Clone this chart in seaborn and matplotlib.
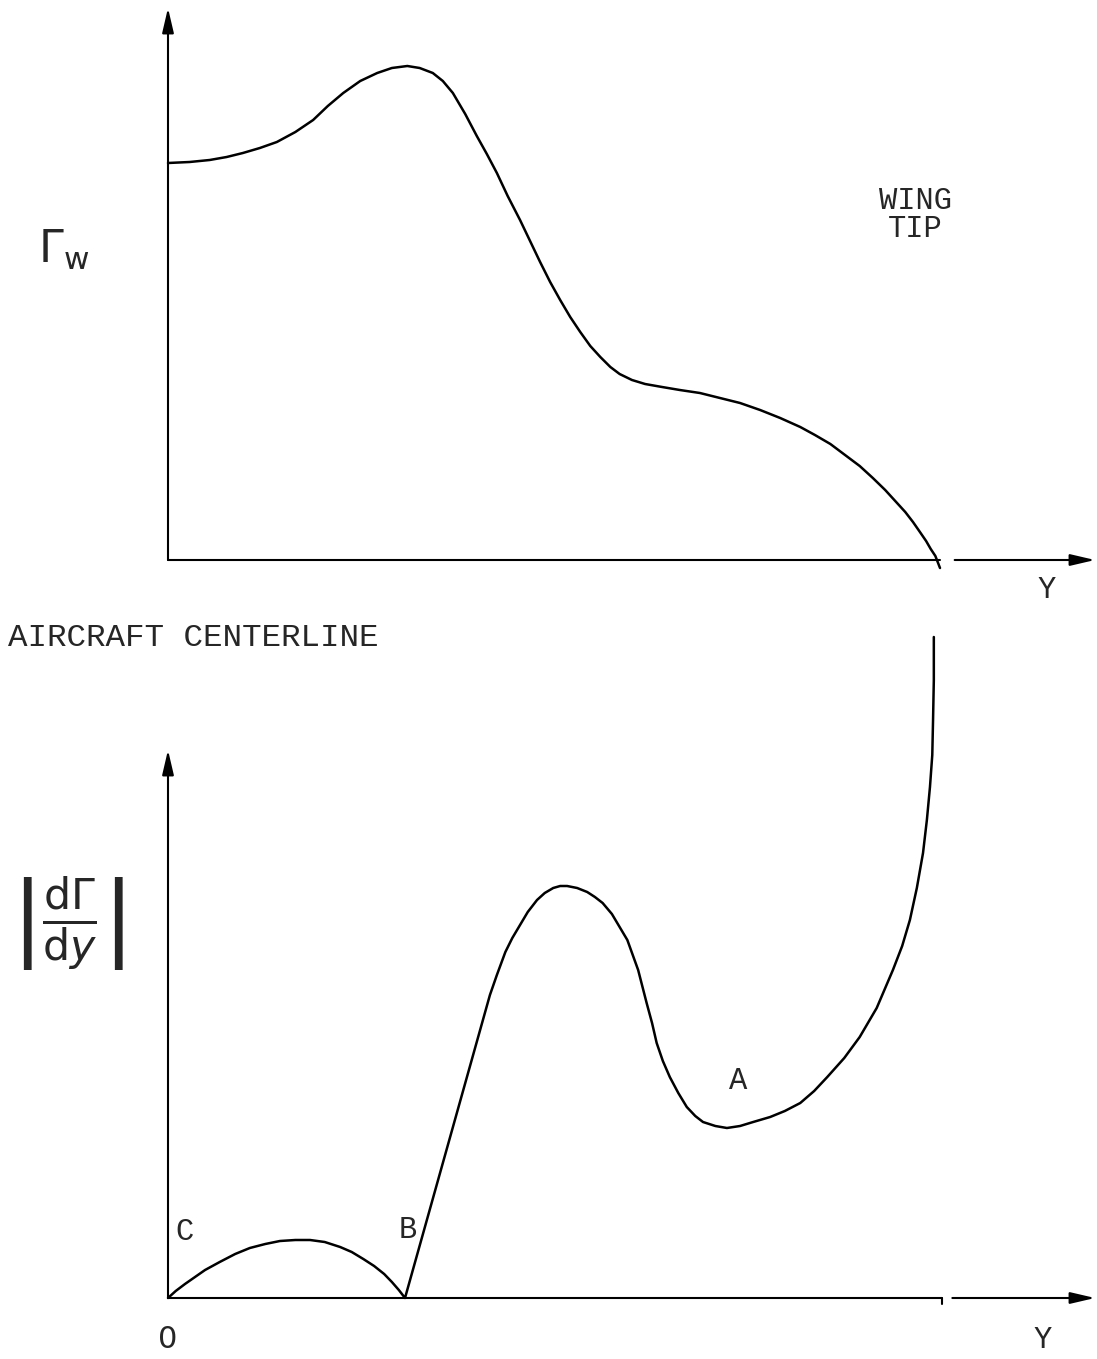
import matplotlib
matplotlib.use("Agg")
import matplotlib.pyplot as plt
import seaborn as sns
import pandas as pd

# Spanwise station as a fraction of the semi-span (0 = centerline, 1 = wing tip)
# Upper panel: wing circulation distribution Gamma_w (arbitrary units)
gamma_y = [0.000, 0.028, 0.054, 0.076, 0.097, 0.119, 0.141, 0.165, 0.188, 0.207,
           0.227, 0.249, 0.271, 0.290, 0.310, 0.326, 0.343, 0.356, 0.369, 0.385,
           0.400, 0.413, 0.426, 0.440, 0.456, 0.469, 0.482, 0.495, 0.508, 0.521,
           0.534, 0.547, 0.560, 0.573, 0.585, 0.601, 0.618, 0.640, 0.663, 0.689,
           0.715, 0.741, 0.767, 0.793, 0.819, 0.838, 0.858, 0.877, 0.896, 0.913,
           0.929, 0.942, 0.955, 0.965, 0.974, 0.982, 0.988, 0.994, 0.997, 1.000]
gamma_w = [3.97, 3.98, 4.00, 4.03, 4.07, 4.12, 4.18, 4.28, 4.40, 4.54,
           4.67, 4.79, 4.87, 4.92, 4.94, 4.92, 4.87, 4.79, 4.67, 4.46,
           4.24, 4.06, 3.87, 3.64, 3.40, 3.19, 2.98, 2.78, 2.60, 2.43,
           2.28, 2.14, 2.03, 1.93, 1.86, 1.80, 1.76, 1.73, 1.70, 1.67,
           1.62, 1.57, 1.50, 1.42, 1.33, 1.25, 1.16, 1.05, 0.94, 0.82,
           0.70, 0.59, 0.48, 0.38, 0.28, 0.19, 0.11, 0.04, -0.02, -0.08]

# Lower panel: magnitude of the spanwise circulation gradient |dGamma/dy|
grad_y = [0.000, 0.010, 0.022, 0.035, 0.048, 0.067, 0.087, 0.106, 0.126, 0.145,
          0.165, 0.184, 0.203, 0.223, 0.238, 0.253, 0.267, 0.280, 0.290, 0.299,
          0.307,
          0.417, 0.426, 0.437, 0.446, 0.456, 0.466, 0.478, 0.488, 0.499, 0.508,
          0.517, 0.530, 0.543, 0.553, 0.563, 0.575, 0.585, 0.595, 0.602, 0.609,
          0.614, 0.620, 0.627, 0.633, 0.641, 0.650, 0.661, 0.672, 0.683, 0.693,
          0.709, 0.724, 0.741, 0.758, 0.780, 0.799, 0.819, 0.837, 0.854, 0.876,
          0.896, 0.918, 0.939, 0.951, 0.961, 0.970, 0.978, 0.983, 0.987, 0.990,
          0.991, 0.992, 0.992]
grad_val = [0.00, 0.07, 0.14, 0.21, 0.28, 0.36, 0.44, 0.50, 0.54, 0.57,
            0.58, 0.58, 0.56, 0.51, 0.46, 0.39, 0.32, 0.24, 0.16, 0.08,
            0.00,
            3.03, 3.23, 3.46, 3.60, 3.73, 3.86, 3.98, 4.05, 4.10, 4.12,
            4.12, 4.10, 4.06, 4.01, 3.95, 3.84, 3.71, 3.58, 3.43, 3.28,
            3.13, 2.95, 2.75, 2.55, 2.37, 2.21, 2.05, 1.91, 1.82, 1.76,
            1.72, 1.70, 1.72, 1.76, 1.81, 1.87, 1.95, 2.07, 2.21, 2.40,
            2.61, 2.90, 3.28, 3.52, 3.78, 4.10, 4.45, 4.78, 5.11, 5.43,
            5.78, 6.18, 6.61]

# Point labels on the gradient curve
point_names = ["C", "B", "A"]
point_x = [0.022, 0.311, 0.738]
point_y = [0.66, 0.68, 2.17]

sns.set_style("white")
plt.rcParams["font.family"] = ["Liberation Mono", "DejaVu Sans"]
plt.rcParams["mathtext.fontset"] = "dejavusans"

W, H = 1097, 1359
SPAN_PX = 772.0
fig = plt.figure(figsize=(W / 100, H / 100), dpi=100)
fig.patch.set_facecolor("white")


def add_panel(top_px, bottom_px, base_px):
    ax = fig.add_axes([0, 1 - bottom_px / H, 1, (bottom_px - top_px) / H])
    ax.set_xlim(-168 / SPAN_PX, (W - 168) / SPAN_PX)
    ax.set_ylim((base_px - bottom_px) / 100, (base_px - top_px) / 100)
    ax.set_axis_off()
    ax.patch.set_alpha(0)
    return ax


LW = 1.8
FS = 22
ARROW = dict(arrowstyle="-|>,head_length=1.5,head_width=0.35", lw=1.5,
             color="black", shrinkA=0, shrinkB=0, mutation_scale=10)

# ---- upper panel ----
ax1 = add_panel(0, 660, 560)
df1 = pd.DataFrame({"y": gamma_y, "gamma": gamma_w})
sns.lineplot(data=df1, x="y", y="gamma", sort=False, estimator=None,
             color="black", lw=LW, ax=ax1)
ax1.annotate("", xy=(0, 5.52), xytext=(0, 0), arrowprops=ARROW)
ax1.plot([0, 1.0], [0, 0], color="black", lw=1.5)
ax1.annotate("", xy=(1.2008, 0), xytext=(1.019, 0), arrowprops=ARROW)
ax1.text(0.968, 3.45, "WING\nTIP", ha="center", va="center", fontsize=FS,
         multialignment="center", linespacing=0.95)
ax1.text(1.1386, -0.30, "Y", ha="center", va="center", fontsize=FS)

# ---- lower panel ----
ax2 = add_panel(600, 1359, 1298)
df2 = pd.DataFrame({"y": grad_y, "grad": grad_val})
sns.lineplot(data=df2, x="y", y="grad", sort=False, estimator=None,
             color="black", lw=LW, ax=ax2)
ax2.annotate("", xy=(0, 5.48), xytext=(0, 0), arrowprops=ARROW)
ax2.plot([0, 1.003], [0, 0], color="black", lw=1.5)
ax2.plot([1.003, 1.003], [0, -0.06], color="black", lw=1.5)
ax2.annotate("", xy=(1.2008, 0), xytext=(1.016, 0), arrowprops=ARROW)
ax2.text(1.1334, -0.42, "Y", ha="center", va="center", fontsize=FS)
ax2.text(0.0, -0.42, "0", ha="center", va="center", fontsize=FS,
         family="DejaVu Sans")
for name, px, py in zip(point_names, point_x, point_y):
    ax2.text(px, py, name, ha="center", va="center", fontsize=FS)

# ---- labels ----
fig.text(8 / W, 1 - 638 / H, "AIRCRAFT CENTERLINE", ha="left", va="center",
         fontsize=23.4)
fig.text(64 / W, 1 - 250 / H, r"$\Gamma_\mathrm{w}$", ha="center", va="center",
         fontsize=32)
fig.text(68 / W, 1 - 924 / H,
         r"$\left|\frac{\mathrm{d}\Gamma}{\mathrm{d}y}\right|$",
         ha="center", va="center", fontsize=44)

fig.savefig("out.png", dpi=100, facecolor="white")
